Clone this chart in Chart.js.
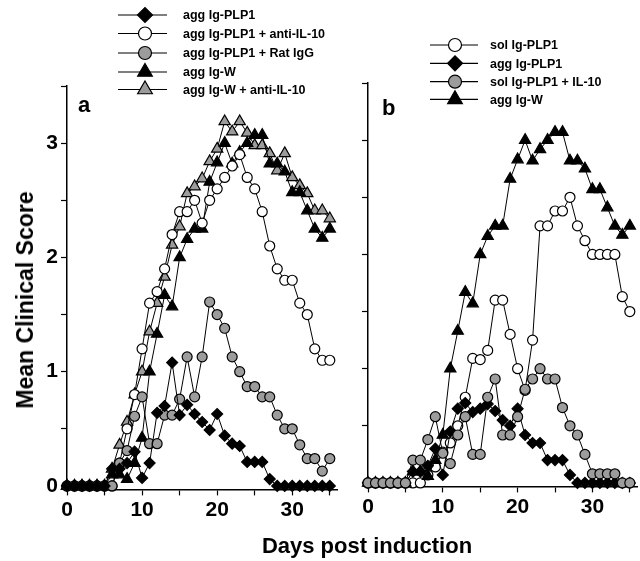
<!DOCTYPE html>
<html>
<head>
<meta charset="utf-8">
<script src="https://cdn.jsdelivr.net/npm/chart.js@4.4.0/dist/chart.umd.min.js"></script>
<style>
html, body { margin: 0; padding: 0; overflow: hidden; background: #fff; }
body { position: relative; width: 640px; height: 561px; font-family: 'Liberation Sans', Arial, sans-serif; font-weight: bold; color: #000; }
canvas { position: absolute; }
#chartA { left: 0; top: 0; width: 345px; height: 561px; }
#chartB { left: 345px; top: -3px; width: 300px; height: 561px; }
.txt { position: absolute; white-space: nowrap; line-height: 22px; }
#panelA { left: 78px; top: 94px; font-size: 22px; }
#panelB { left: 382px; top: 97px; font-size: 22px; }
#xTitle { left: 367px; top: 535px; font-size: 22px; transform: translateX(-50%); }
#yTitle { left: 25px; top: 300px; font-size: 23px; transform: translate(-50%, -50%) rotate(-90deg); }
</style>
</head>
<body>
<canvas id="chartA" width="345" height="561"></canvas>
<canvas id="chartB" width="300" height="561"></canvas>
<div class="txt" id="panelA">a</div>
<div class="txt" id="panelB">b</div>
<div class="txt" id="xTitle">Days post induction</div>
<div class="txt" id="yTitle">Mean Clinical Score</div>
<script>
// Days post induction (x values)
const DAYS = [0, 1, 2, 3, 4, 5, 6, 7, 8, 9, 10, 11, 12, 13, 14, 15, 16, 17, 18, 19, 20,
              21, 22, 23, 24, 25, 26, 27, 28, 29, 30, 31, 32, 33, 34, 35];
const X_TICKS = [0, 5, 10, 15, 20, 25, 30, 35];
const Y_TICKS = [0, 0.5, 1, 1.5, 2, 2.5, 3, 3.5];

// control group, same in both panels
const AGG_W = [0, 0, 0, 0, 0, 0, 0.1, 0.1, 0.06, 0.2, 0.42, 1.0, 1.33, 1.67, 1.57, 2.0, 2.16, 2.25, 2.25,
               2.66, 2.83, 3.0, 2.82, 2.92, 3.0, 3.07, 3.07, 2.82, 2.82, 2.75, 2.57, 2.57, 2.41, 2.25, 2.17, 2.25];

// panel a
const A_LABELS = ['agg Ig-PLP1', 'agg Ig-PLP1 + anti-IL-10', 'agg Ig-PLP1 + Rat IgG', 'agg Ig-W', 'agg Ig-W + anti-IL-10'];
const A_AGG_PLP1 = [0, 0, 0, 0, 0, 0, 0.15, 0.15, 0.2, 0.3, 0.07, 0.2, 0.64, 0.7, 1.08, 0.62, 0.71, 0.63, 0.56,
                    0.49, 0.63, 0.44, 0.37, 0.35, 0.21, 0.21, 0.21, 0.06, 0, 0, 0, 0, 0, 0, 0, 0];
const A_ANTI_IL10 = [0, 0, 0, 0, 0, 0, 0, 0.2, 0.5, 0.8, 1.2, 1.6, 1.7, 1.9, 2.2, 2.4, 2.4, 2.5, 2.3,
                     2.5, 2.6, 2.7, 2.8, 2.9, 2.7, 2.6, 2.4, 2.1, 1.9, 1.8, 1.8, 1.6, 1.5, 1.2, 1.1, 1.1];
const A_RAT_IGG = [0, 0, 0, 0, 0, 0, 0, 0.2, 0.31, 0.61, 0.78, 0.37, 0.37, 0.62, 0.62, 0.76, 1.13, 0.78, 1.13,
                   1.61, 1.5, 1.38, 1.13, 1.0, 0.87, 0.87, 0.78, 0.78, 0.62, 0.5, 0.5, 0.36, 0.24, 0.24, 0.13, 0.24];
const A_W_ANTI_IL10 = [0, 0, 0, 0, 0, 0, 0.15, 0.36, 0.56, 0.8, 1.0, 1.35, 1.6, 1.83, 2.11, 2.27, 2.56, 2.62, 2.69,
                       2.84, 2.95, 3.19, 3.1, 3.19, 3.09, 2.98, 2.98, 2.91, 2.76, 2.91, 2.7, 2.63, 2.56, 2.41, 2.41, 2.34];

// panel b
const B_LABELS = ['sol Ig-PLP1', 'agg Ig-PLP1', 'sol Ig-PLP1 + IL-10', 'agg Ig-W'];
const B_SOL_PLP1 = [0, 0, 0, 0, 0, 0, 0, 0, 0.07, 0.14, 0.27, 0.35, 0.5, 0.75, 1.09, 1.08, 1.16, 1.6, 1.6,
                    1.3, 1.0, 0.81, 1.25, 2.25, 2.25, 2.38, 2.38, 2.5, 2.25, 2.12, 2.0, 2.0, 2.0, 2.0, 1.63, 1.5];
const B_AGG_PLP1 = [0, 0, 0, 0, 0, 0, 0.1, 0.1, 0.15, 0.3, 0.07, 0.45, 0.65, 0.7, 0.62, 0.65, 0.69, 0.63, 0.55,
                    0.5, 0.65, 0.42, 0.35, 0.35, 0.2, 0.2, 0.2, 0.07, 0, 0, 0, 0, 0, 0, 0, 0];
const B_SOL_IL10 = [0, 0, 0, 0, 0, 0, 0.2, 0.2, 0.38, 0.58, 0.26, 0.17, 0.42, 0.58, 0.25, 0.25, 0.75, 0.91, 0.42,
                    0.42, 0.58, 0.82, 0.91, 1.0, 0.91, 0.91, 0.66, 0.5, 0.42, 0.25, 0.08, 0.08, 0.08, 0.08, 0, 0];

const GRAY = '#9c9c9c';
const FONT = '"Liberation Sans", Arial, sans-serif';
const MARKER_R = { circle: 5, rectRot: 5.5, triangle: 6.5 };
const LEGEND_R = { circle: 6.5, rectRot: 7.5, triangle: 8.5 };

// order: lower number is drawn on top
function series(label, values, style, fill, order) {
    return {
        label: label,
        data: DAYS.map((d, i) => ({ x: d, y: values[i] })),
        order: order,
        borderColor: '#000',
        borderWidth: 1,
        backgroundColor: fill,
        pointStyle: style,
        pointRadius: MARKER_R[style],
        pointBorderColor: '#000',
        pointBackgroundColor: fill,
        pointBorderWidth: 1.2,
        tension: 0,
        clip: false
    };
}

function drawMarker(ctx, style, x, y, r, fill) {
    ctx.beginPath();
    if (style === 'circle') {
        ctx.arc(x, y, r, 0, Math.PI * 2);
    } else if (style === 'rectRot') {
        ctx.moveTo(x - r, y);
        ctx.lineTo(x, y - r);
        ctx.lineTo(x + r, y);
        ctx.lineTo(x, y + r);
        ctx.closePath();
    } else {
        for (let k = 0; k < 3; k++) {
            const a = k * 2 * Math.PI / 3;
            const px = x + Math.sin(a) * r, py = y - Math.cos(a) * r;
            if (k === 0) ctx.moveTo(px, py); else ctx.lineTo(px, py);
        }
        ctx.closePath();
    }
    ctx.fillStyle = fill;
    ctx.fill();
    ctx.lineWidth = 1.2;
    ctx.strokeStyle = '#000';
    ctx.stroke();
}

// legend with a short line through the marker, like the figure
const lineLegend = {
    id: 'lineLegend',
    afterDraw(chart, args, opts) {
        const ctx = chart.ctx;
        ctx.save();
        chart.data.datasets.forEach((ds, i) => {
            const y = opts.rows[i];
            ctx.beginPath();
            ctx.moveTo(opts.x0, y);
            ctx.lineTo(opts.x1, y);
            ctx.lineWidth = 1.2;
            ctx.strokeStyle = '#000';
            ctx.stroke();
            drawMarker(ctx, ds.pointStyle, opts.mx, y, LEGEND_R[ds.pointStyle], ds.pointBackgroundColor);
            ctx.fillStyle = '#000';
            ctx.font = 'bold 12.5px ' + FONT;
            ctx.textBaseline = 'middle';
            ctx.fillText(ds.label, opts.tx, y + 1);
        });
        ctx.restore();
    }
};

function makeOptions(showYLabels, yWidth, padRight, legend) {
    return {
        responsive: false,
        animation: false,
        devicePixelRatio: 1,
        layout: { padding: { top: 86, bottom: 31.6, left: 0, right: padRight } },
        plugins: { legend: { display: false }, tooltip: { enabled: false }, lineLegend: legend },
        scales: {
            x: {
                type: 'linear', min: 0, max: 36,
                afterBuildTicks: s => { s.ticks = X_TICKS.map(v => ({ value: v })); },
                afterFit: s => { s.height = 40; },
                grid: { drawOnChartArea: false, drawTicks: true, tickLength: 6, tickColor: '#000', tickWidth: 1.2 },
                border: { display: true, color: '#000', width: 1.5 },
                ticks: {
                    color: '#000', padding: 2, maxRotation: 0, autoSkip: false,
                    font: { family: FONT, size: 21, weight: 'bold' },
                    callback: v => (v % 10 === 0 ? v : '')
                }
            },
            y: {
                type: 'linear', min: -0.03, max: 3.5,
                afterBuildTicks: s => { s.ticks = Y_TICKS.map(v => ({ value: v })); },
                afterFit: s => { s.width = yWidth; },
                grid: { drawOnChartArea: false, drawTicks: true, tickLength: 6, tickColor: '#000', tickWidth: 1.2 },
                border: { display: true, color: '#000', width: 1.5 },
                ticks: {
                    color: '#000', padding: 3, autoSkip: false,
                    font: { family: FONT, size: 21, weight: 'bold' },
                    callback: v => (showYLabels && Number.isInteger(v) ? v : '')
                }
            }
        }
    };
}

new Chart(document.getElementById('chartA'), {
    type: 'line',
    data: {
        datasets: [
            series(A_LABELS[0], A_AGG_PLP1, 'rectRot', '#000', 0),
            series(A_LABELS[1], A_ANTI_IL10, 'circle', '#fff', 2),
            series(A_LABELS[2], A_RAT_IGG, 'circle', GRAY, 1),
            series(A_LABELS[3], AGG_W, 'triangle', '#000', 3),
            series(A_LABELS[4], A_W_ANTI_IL10, 'triangle', GRAY, 4)
        ]
    },
    options: makeOptions(true, 67, 4, { rows: [15, 33.5, 53, 72, 89.5], x0: 118, x1: 167, mx: 145, tx: 183 }),
    plugins: [lineLegend]
});

new Chart(document.getElementById('chartB'), {
    type: 'line',
    data: {
        datasets: [
            series(B_LABELS[0], B_SOL_PLP1, 'circle', '#fff', 3),
            series(B_LABELS[1], B_AGG_PLP1, 'rectRot', '#000', 1),
            series(B_LABELS[2], B_SOL_IL10, 'circle', GRAY, 0),
            series(B_LABELS[3], AGG_W, 'triangle', '#000', 2)
        ]
    },
    options: makeOptions(false, 23, 0, { rows: [48, 66.3, 84.7, 102.3], x0: 85, x1: 133, mx: 110, tx: 145 }),
    plugins: [lineLegend]
});
</script>
</body>
</html>
